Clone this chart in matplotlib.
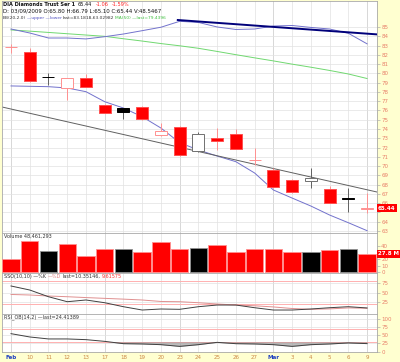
import matplotlib
matplotlib.use("Agg")
import matplotlib.pyplot as plt
import numpy as np

# trading days shown
dates = ['Feb', '10', '11', '12', '13', '17', '18', '19', '20', '23', '24',
         '25', '26', '27', 'Mar', '3', '4', '5', '6', '9']
week_start = [1, 0, 0, 0, 0, 1, 0, 0, 0, 1, 0, 0, 0, 0, 1, 0, 0, 0, 0, 1]

prev_close = 84.3
opens  = [82.83, 82.30, 79.62, 78.45, 79.47, 76.60, 76.23, 76.40, 73.35, 74.24,
          71.62, 73.05, 73.46, 70.62, 69.57, 68.50, 68.39, 67.49, 66.54, 65.40]
highs  = [83.20, 82.70, 80.00, 79.50, 79.90, 76.70, 76.30, 76.45, 74.64, 74.30,
          73.70, 74.07, 73.96, 71.90, 69.76, 68.55, 69.76, 67.85, 67.60, 67.10]
lows   = [82.20, 79.10, 78.74, 77.10, 78.50, 75.70, 75.08, 75.00, 73.20, 71.10,
          71.55, 71.70, 71.80, 70.10, 67.60, 67.10, 67.60, 66.00, 65.08, 64.90]
closes = [82.87, 79.17, 79.57, 79.47, 78.56, 75.76, 75.85, 75.08, 73.80, 71.19,
          73.43, 72.70, 71.84, 70.66, 67.77, 67.17, 68.75, 66.05, 66.50, 65.44]

bb_upper = [84.78, 84.35, 83.81, 83.81, 83.71, 83.95, 84.24, 84.60, 84.97, 85.61,
            85.49, 85.00, 84.73, 84.78, 85.10, 85.16, 84.95, 84.78, 84.32, 83.18]
bb_lower = [78.64, 78.60, 78.56, 78.42, 78.02, 76.94, 76.26, 75.32, 74.10, 72.52,
            71.73, 71.08, 70.47, 69.25, 67.42, 66.55, 65.69, 64.72, 63.89, 63.03]
ma50 = [84.68, 84.55, 84.41, 84.27, 84.13, 83.99, 83.73, 83.48, 83.21, 82.97,
        82.70, 82.36, 82.01, 81.67, 81.34, 80.99, 80.66, 80.31, 79.93, 79.44]

# hand-drawn trend lines (index, price)
trend_gray_x = [-0.48, 19.53]
trend_gray_y = [76.37, 67.20]
trend_navy_x = [8.9, 19.53]
trend_navy_y = [85.75, 84.20]

volume = [20.5, 47.1, 32.8, 43.5, 24.0, 35.8, 35.4, 30.2, 45.5, 35.4,
          36.9, 42.0, 30.8, 35.4, 35.8, 30.2, 31.2, 34.3, 35.4, 27.8]

sso_k = [66.7, 56.4, 39.2, 26.4, 30.8, 23.8, 13.6, 5.1, 7.7, 6.9,
         13.6, 17.9, 17.9, 11.0, 5.1, 5.1, 7.7, 11.0, 13.6, 10.4]
sso_d = [45.0, 43.6, 41.0, 39.2, 37.0, 35.0, 33.0, 30.8, 27.0, 26.4,
         23.8, 20.5, 18.0, 16.0, 13.0, 9.0, 7.0, 8.0, 10.5, 9.6]
rsi = [54.5, 44.5, 38.5, 38.5, 36.4, 31.2, 24.2, 23.3, 21.2, 16.0,
       21.2, 28.2, 24.2, 23.3, 21.2, 16.0, 21.2, 23.3, 26.4, 24.4]

price_ticks = list(range(63, 86))
vol_ticks = [0, 10, 20, 30, 40]
sso_ticks = [25, 50, 75]
rsi_ticks = [0, 25, 50, 75, 100]

BG = '#FFFFD0'
LBL = '#E8806A'
GRID = '#E2E2E2'
GRID2 = '#C8C8C8'
FS = 4.0
HFS = 3.5

x = np.arange(len(dates))
W, H = 400, 362
fig = plt.figure(figsize=(4, 3.62), dpi=100, facecolor=BG)
renderer = fig.canvas.get_renderer()


def box(top, bottom):
    return [2 / W, 1 - bottom / H, 375 / W, (bottom - top) / H]


def chain(px, py, parts, size=HFS, gap=1.5):
    # write coloured pieces one after another on one line
    for s, c, wgt in parts:
        t = fig.text(px / W, 1 - py / H, s, fontsize=size, va='center',
                     ha='left', color=c, weight=wgt)
        px += t.get_window_extent(renderer).width + gap


ax = fig.add_axes(box(1, 233))
axv = fig.add_axes(box(233, 273), sharex=ax)
axs = fig.add_axes(box(273, 314), sharex=ax)
axr = fig.add_axes(box(314, 352), sharex=ax)

for a in (ax, axv, axs, axr):
    a.set_facecolor('white')
    for s in a.spines.values():
        s.set_color('#A8A8A8')
        s.set_linewidth(0.6)
    a.yaxis.tick_right()
    a.tick_params(axis='y', labelsize=FS, colors='#B0B0B0', labelcolor=LBL,
                  length=2, width=0.5, pad=1)
    a.tick_params(axis='x', length=0)
    for i in x:
        a.axvline(i, color=GRID2 if week_start[i] else GRID, lw=0.5, zorder=0)
    a.set_xlim(-0.48, 19.53)

# ---- price panel
ax.set_ylim(62.78, 87.8)
ax.set_yticks(price_ticks)
for p in price_ticks:
    ax.axhline(p, color=GRID, lw=0.5, zorder=0)

ax.plot(x, ma50, color='#70D870', lw=0.7, zorder=2)
ax.plot(x, bb_upper, color='#7272CC', lw=0.7, zorder=2)
ax.plot(x, bb_lower, color='#7272CC', lw=0.7, zorder=2)
ax.plot(trend_gray_x, trend_gray_y, color='#606060', lw=0.7, zorder=2)
ax.plot(trend_navy_x, trend_navy_y, color='#00007A', lw=1.4, zorder=2)

pc = [prev_close] + closes[:-1]
bar_colors = []
for i in x:
    up = closes[i] >= pc[i]
    hollow = closes[i] >= opens[i]
    bar_colors.append('black' if up else 'red')
    if up:
        face = 'white' if hollow else 'black'
        edge = '#707070' if hollow else 'black'
        wick = '#606060'
    else:
        face = 'white' if hollow else '#FF0000'
        edge = '#FF9090' if hollow else '#FF5050'
        wick = '#FF9090'
    lo, hi = min(opens[i], closes[i]), max(opens[i], closes[i])
    ax.vlines(i, lows[i], highs[i], color=wick, lw=0.7, zorder=3)
    ax.bar(i, max(hi - lo, 0.04), bottom=lo, width=0.64, color=face,
           edgecolor=edge, lw=0.7, zorder=4)

ax.text(1.003, closes[-1], '%.2f' % closes[-1], transform=ax.get_yaxis_transform(),
        fontsize=FS, color='white', weight='bold', va='center', ha='left',
        bbox=dict(boxstyle='square,pad=0.25', fc='#FF0000', ec='none'), zorder=6,
        clip_on=False)
# the box hides the tick label underneath it, as in the original
ax.set_yticklabels(['' if p == 65 else str(p) for p in price_ticks])

# ---- volume panel
axv.set_ylim(-1.5, 60)
axv.set_yticks(vol_ticks)
axv.set_yticklabels(['' if v == 30 else str(v) for v in vol_ticks])
axv.bar(x, volume, width=0.93, color=bar_colors,
        edgecolor=['#FF9090' if c == 'red' else '#909090' for c in bar_colors],
        lw=0.6, zorder=3)
axv.text(1.003, volume[-1], '%.1f M' % volume[-1], transform=axv.get_yaxis_transform(),
         fontsize=FS, color='white', weight='bold', va='center', ha='left',
         bbox=dict(boxstyle='square,pad=0.25', fc='#FF0000', ec='none'), zorder=6,
         clip_on=False)
chain(4, 236, [('Volume 48,461,293', '#333333', 'normal')])

# ---- slow stochastic
axs.set_ylim(-5.1, 100)
axs.set_yticks(sso_ticks)
for v in sso_ticks:
    axs.axhline(v, color=GRID, lw=0.5, zorder=0)
for v in (80, 20):
    axs.axhline(v, color='#FFB0B0', lw=0.7, zorder=1)
axs.plot(x, sso_d, color='#E09090', lw=0.7, zorder=2)
axs.plot(x, sso_k, color='#404040', lw=0.7, zorder=3)
chain(4, 276.5, [('SSO(10,10) \u2014%K', '#333333', 'normal'),
                 ('\u2014%D', '#E08080', 'normal'),
                 ('last=10.35146,', '#333333', 'normal'),
                 ('9.61575', '#FF3030', 'normal')])

# ---- RSI
axr.set_ylim(-1, 114)
axr.set_yticks(rsi_ticks)
for v in rsi_ticks:
    axr.axhline(v, color=GRID, lw=0.5, zorder=0)
for v in (70, 30):
    axr.axhline(v, color='#FFB0B0', lw=0.7, zorder=1)
rsi_arr = np.array(rsi)
axr.fill_between(x, rsi_arr, 30, where=rsi_arr < 30, interpolate=True,
                 color='#909090', alpha=0.6, lw=0, zorder=2)
axr.plot(x, rsi, color='#404040', lw=0.7, zorder=3)
chain(4, 317.5, [('RSI_OB(14,2) \u2014last=24.41389', '#333333', 'normal')])

# ---- x labels
axr.set_xticks(x)
axr.set_xticklabels(dates, fontsize=FS)
axr.tick_params(axis='x', pad=2)
for lab, d in zip(axr.get_xticklabels(), dates):
    if d in ('Feb', 'Mar'):
        lab.set_color('#2040C0')
        lab.set_fontweight('bold')
    else:
        lab.set_color('#CC8844')
for a in (ax, axv, axs):
    plt.setp(a.get_xticklabels(), visible=False)

# ---- header text
chain(3, 4.5, [('DIA Diamonds Trust Ser 1', '#111111', 'bold'),
               ('65.44', '#111111', 'normal'),
               ('-1.06', '#FF2020', 'normal'),
               ('-1.59%', '#FF2020', 'normal')], size=3.6, gap=3)
chain(3, 11, [('D: 03/09/2009 O:65.80 H:66.79 L:65.10 C:65.44 V:48.5467',
               '#111111', 'normal')], size=3.9)
chain(3, 18, [('BB(20,2.0)', '#333333', 'normal'),
              ('\u2014upper \u2014lower', '#5050C0', 'normal'),
              ('last=83.1818,63.02982', '#333333', 'normal'),
              ('MA(50) \u2014last=79.4396', '#40C040', 'normal')],
      size=3.2, gap=1)

fig.savefig('out.png', dpi=100, facecolor=BG)
